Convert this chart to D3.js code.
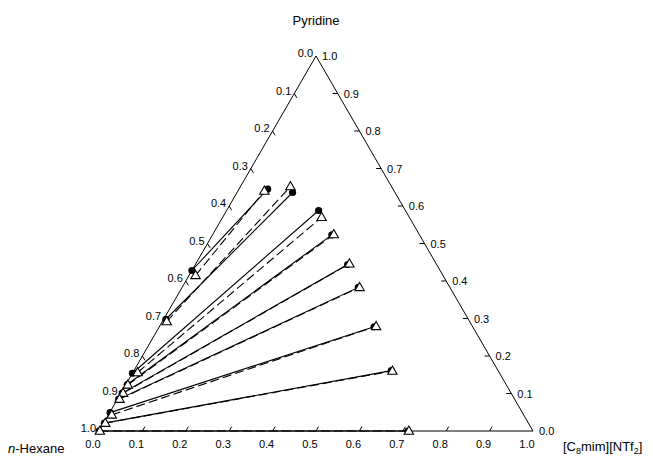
<!DOCTYPE html>
<html>
<head>
<meta charset="utf-8">
<script src="https://cdn.jsdelivr.net/npm/d3@7"></script>
<style>
  body { margin: 0; background: #fff; }
  #viz { width: 653px; height: 456px; }
  text { font-family: "Liberation Sans", Arial, sans-serif; fill: #000; }
</style>
</head>
<body>
<div id="viz"></div>
<script>
// tie line end points, mole fractions (pyridine, IL); hexane = 1 - p - i
// experimental (filled circles, solid lines)
var expRafPyr = [0.428, 0.298, 0.154, 0.124, 0.101, 0.085, 0.049, 0.021, 0.000];
var expRafIL  = [0.000, 0.005, 0.000, 0.003, 0.003, 0.003, 0.001, 0.002, 0.000];
var expExtPyr = [0.645, 0.636, 0.588, 0.523, 0.444, 0.383, 0.278, 0.161, 0.000];
var expExtIL  = [0.066, 0.128, 0.212, 0.275, 0.351, 0.406, 0.495, 0.593, 0.712];
// calculated (open triangles, dashed lines)
var calcRafPyr = [0.415, 0.292, 0.156, 0.123, 0.101, 0.085, 0.043, 0.021, 0.000];
var calcRafIL  = [0.015, 0.010, 0.011, 0.005, 0.005, 0.005, 0.008, 0.004, 0.002];
var calcExtPyr = [0.640, 0.652, 0.570, 0.524, 0.446, 0.383, 0.279, 0.160, 0.000];
var calcExtIL  = [0.061, 0.115, 0.228, 0.279, 0.354, 0.409, 0.499, 0.596, 0.714];

var tickValues = [0, 0.1, 0.2, 0.3, 0.4, 0.5, 0.6, 0.7, 0.8, 0.9, 1.0];

var width = 653, height = 456;

var svg = d3.select("#viz").append("svg")
    .attr("width", width)
    .attr("height", height);

/* scales: cartesian position of a composition */
var h3 = Math.sqrt(3) / 2;
var xScale = d3.scaleLinear().domain([0, 1]).range([99, 533]);
var yScale = d3.scaleLinear().domain([0, h3]).range([431, 56]);

function px(p, i) { return xScale(i + p / 2); }
function py(p) { return yScale(p * h3); }

var fmt = d3.format(".1f");

// triangle frame
svg.append("path")
    .attr("d", "M" + px(0, 0) + "," + py(0) + "L" + px(1, 0) + "," + py(1) + "L" + px(0, 1) + "," + py(0) + "Z")
    .attr("fill", "none")
    .attr("stroke", "#000")
    .attr("stroke-width", 1);

var tl = 5;
var axes = svg.append("g").attr("class", "axes");

// left axis: hexane fraction, 0 at top
tickValues.forEach(function(v) {
  var x = px(1 - v, 0), y = py(1 - v);
  if (v > 0 && v < 1) {
    axes.append("line").attr("x1", x).attr("y1", y)
        .attr("x2", x + tl * 0.5).attr("y2", y + tl * h3)
        .attr("stroke", "#000");
  }
  axes.append("text").attr("x", x - 3).attr("y", y + 1)
      .attr("text-anchor", "end").attr("font-size", 11).text(fmt(v));
});

// right axis: pyridine fraction, 1 at top
tickValues.forEach(function(v) {
  var x = px(v, 1 - v), y = py(v);
  if (v > 0 && v < 1) {
    axes.append("line").attr("x1", x).attr("y1", y)
        .attr("x2", x - tl).attr("y2", y)
        .attr("stroke", "#000");
  }
  axes.append("text").attr("x", x + 6).attr("y", y + 4)
      .attr("text-anchor", "start").attr("font-size", 11).text(fmt(v));
});

// bottom axis: IL fraction
tickValues.forEach(function(v) {
  var x = px(0, v), y = py(0);
  if (v > 0 && v < 1) {
    axes.append("line").attr("x1", x).attr("y1", y)
        .attr("x2", x + tl * 0.5).attr("y2", y - tl * h3)
        .attr("stroke", "#000");
  }
  axes.append("text").attr("x", x - 6).attr("y", 448)
      .attr("text-anchor", "middle").attr("font-size", 11).text(fmt(v));
});

// vertex labels
svg.append("text").attr("x", px(1, 0)).attr("y", 25)
    .attr("text-anchor", "middle").attr("font-size", 13).text("Pyridine");

var hex = svg.append("text").attr("x", 8).attr("y", 453).attr("font-size", 13);
hex.append("tspan").attr("font-style", "italic").text("n");
hex.append("tspan").text("-Hexane");

var il = svg.append("text").attr("x", 563).attr("y", 451).attr("font-size", 13);
il.append("tspan").text("[C");
il.append("tspan").attr("font-size", 9).attr("dy", 2.5).text("8");
il.append("tspan").attr("dy", -2.5).text("mim][NTf");
il.append("tspan").attr("font-size", 9).attr("dy", 2.5).text("2");
il.append("tspan").attr("dy", -2.5).text("]");

// tie lines
var idx = d3.range(expRafPyr.length);

svg.append("g").selectAll("line")
    .data(idx).enter().append("line")
    .attr("x1", function(d) { return px(expRafPyr[d], expRafIL[d]); })
    .attr("y1", function(d) { return py(expRafPyr[d]); })
    .attr("x2", function(d) { return px(expExtPyr[d], expExtIL[d]); })
    .attr("y2", function(d) { return py(expExtPyr[d]); })
    .attr("stroke", "#000")
    .attr("stroke-width", 1.1);

svg.append("g").selectAll("line")
    .data(idx).enter().append("line")
    .attr("x1", function(d) { return px(calcRafPyr[d], calcRafIL[d]); })
    .attr("y1", function(d) { return py(calcRafPyr[d]); })
    .attr("x2", function(d) { return px(calcExtPyr[d], calcExtIL[d]); })
    .attr("y2", function(d) { return py(calcExtPyr[d]); })
    .attr("stroke", "#000")
    .attr("stroke-width", 1.1)
    .attr("stroke-dasharray", "9,4");

// markers: circles first, triangles on top
var expPts = [], calcPts = [];
idx.forEach(function(d) {
  expPts.push([expRafPyr[d], expRafIL[d]], [expExtPyr[d], expExtIL[d]]);
  calcPts.push([calcRafPyr[d], calcRafIL[d]], [calcExtPyr[d], calcExtIL[d]]);
});

svg.append("g").selectAll("circle")
    .data(expPts).enter().append("circle")
    .attr("cx", function(d) { return px(d[0], d[1]); })
    .attr("cy", function(d) { return py(d[0]); })
    .attr("r", 3.6)
    .attr("fill", "#000");

var tri = d3.symbol().type(d3.symbolTriangle).size(38);
svg.append("g").selectAll("path")
    .data(calcPts).enter().append("path")
    .attr("d", tri)
    .attr("transform", function(d) { return "translate(" + px(d[0], d[1]) + "," + (py(d[0]) + 0.5) + ")"; })
    .attr("fill", "#fff")
    .attr("stroke", "#000")
    .attr("stroke-width", 1.1);
</script>
</body>
</html>
